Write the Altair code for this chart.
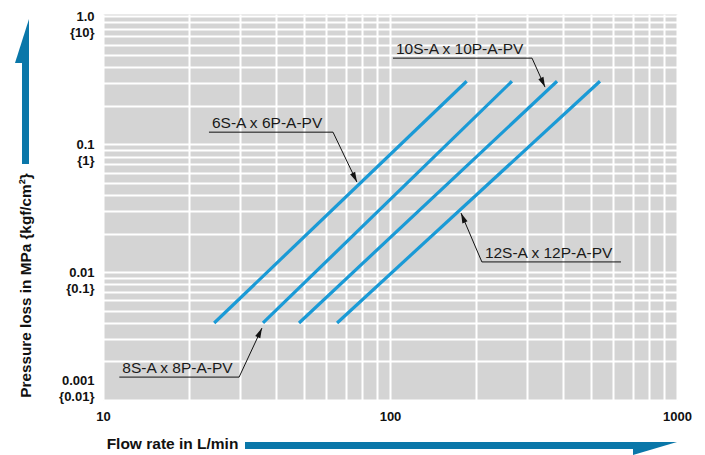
import math
import altair as alt
import pandas as pd

# ---------------- data ----------------
series = ["6S-A x 6P-A-PV", "8S-A x 8P-A-PV", "10S-A x 10P-A-PV", "12S-A x 12P-A-PV"]
flow_start = [24.4, 36.1, 48.2, 65.4]
flow_end = [185.0, 266.0, 382.0, 539.0]
loss_start = [0.004, 0.004, 0.004, 0.004]
loss_end = [0.31, 0.31, 0.31, 0.31]

# annotation callouts (underline ends, underline level, arrow tip) in data units
ann_x0 = [23.4, 11.4, 102.4, 209.0]
ann_x1 = [63.3, 29.8, 312.5, 638.0]
ann_y = [0.124, 0.00151, 0.47, 0.0120]
ann_tip_x = [76.7, 35.8, 346.8, 176.8]
ann_tip_y = [0.0505, 0.00365, 0.279, 0.0289]
ann_attach = ["right", "right", "right", "left"]

x_tick_values = [10, 100, 1000]
x_tick_labels = ["10", "100", "1000"]
y_tick_values = [1.0, 0.1, 0.01, 0.001]
y_tick_mpa = ["1.0", "0.1", "0.01", "0.001"]
y_tick_kgf = ["{10}", "{1}", "{0.1}", "{0.01}"]

# ---------------- layout / style ----------------
W, H = 574, 386
X_DOMAIN = [10, 1000]
Y_DOMAIN = [0.001, 1.04]
LINE_BLUE = "#1a9ad6"
ARROW_BLUE = "#0a77a9"
GRID_BG = "#d4d4d4"
BOLD_FONT = "Liberation Sans Narrow, Arial Narrow, Liberation Sans, sans-serif"
TEXT_FONT = "Liberation Sans, Arial, sans-serif"

x_grid = [float(f"{k}e{e}") for e in (1, 2) for k in range(1, 10)] + [1000.0]
y_grid = [float(f"{k}e{e}") for e in (-3, -2, -1) for k in range(1, 10)] + [1.0]


def px(v):
    lo, hi = math.log10(X_DOMAIN[0]), math.log10(X_DOMAIN[1])
    return W * (math.log10(v) - lo) / (hi - lo)


def py(v):
    lo, hi = math.log10(Y_DOMAIN[0]), math.log10(Y_DOMAIN[1])
    return H * (hi - math.log10(v)) / (hi - lo)


rows = []
for s, fs, fe, ls, le in zip(series, flow_start, flow_end, loss_start, loss_end):
    rows.append({"series": s, "flow": fs, "loss": ls, "o": 0})
    rows.append({"series": s, "flow": fe, "loss": le, "o": 1})
lines_df = pd.DataFrame(rows)

lead_rows, text_rows, head_rows = [], [], []
for s, x0, x1, y, tx, ty, att in zip(series, ann_x0, ann_x1, ann_y, ann_tip_x, ann_tip_y, ann_attach):
    if att == "right":
        pts = [(x0, y), (x1, y), (tx, ty)]
    else:
        pts = [(x1, y), (x0, y), (tx, ty)]
    for i, (a, b) in enumerate(pts):
        lead_rows.append({"name": s, "o": i, "flow": a, "loss": b})
    text_rows.append({"name": s, "flow": x0, "loss": y})
    (ax, ay) = pts[1]
    dx = px(tx) - px(ax)
    dy = py(ty) - py(ay)
    ang = math.degrees(math.atan2(dx, -dy)) % 360
    head_rows.append({"name": s, "flow": tx, "loss": ty, "ang": ang})
lead_df = pd.DataFrame(lead_rows)
text_df = pd.DataFrame(text_rows)
head_df = pd.DataFrame(head_rows)

xscale = alt.Scale(type="log", domain=X_DOMAIN, nice=False)
yscale = alt.Scale(type="log", domain=Y_DOMAIN, nice=False)

x_label_expr = " : ".join(
    f"datum.value == {v} ? '{t}'" for v, t in zip(x_tick_values, x_tick_labels)
) + " : ''"
y_label_expr = " : ".join(
    f"datum.value == {v} ? ['{a}', '{b}']"
    for v, a, b in zip(y_tick_values, y_tick_mpa, y_tick_kgf)
) + " : ''"
lowest = min(y_tick_values)

x_axis = alt.Axis(
    values=x_grid, labelExpr=x_label_expr, grid=True, gridColor="white", gridWidth=2,
    ticks=False, domain=False, labelFont=BOLD_FONT, labelFontWeight="bold",
    labelFontSize=13, labelColor="#111111", labelPadding=10, labelFlush=False,
    labelOverlap=False, title="Flow rate in L/min", titleFont=BOLD_FONT,
    titleFontSize=15.5, titleFontWeight="bold", titleColor="#111111",
    titleX=69, titleY=43, titleAlign="center", titleBaseline="middle", titleAngle=0,
)
y_axis = alt.Axis(
    values=y_grid, labelExpr=y_label_expr, grid=True, gridColor="white", gridWidth=2,
    ticks=False, domain=False, labelFont=BOLD_FONT, labelFontWeight="bold",
    labelFontSize=13, labelColor="#111111", labelPadding=9, labelFlush=False,
    labelOverlap=False, labelLineHeight=16, labelAlign="right",
    labelBaseline="middle",
    labelOffset={"condition": {"test": f"datum.value <= {lowest}", "value": -20}, "value": 0},
    title="Pressure loss in MPa {kgf/cm²}", titleFont=BOLD_FONT, titleFontSize=15.3,
    titleFontWeight="bold", titleColor="#111111",
    titleX=-78, titleY=271, titleAlign="center", titleBaseline="middle", titleAngle=270,
)

curves = alt.Chart(lines_df).mark_line(color=LINE_BLUE, strokeWidth=3.2).encode(
    x=alt.X("flow:Q", scale=xscale, axis=x_axis),
    y=alt.Y("loss:Q", scale=yscale, axis=y_axis),
    detail="series:N",
    order="o:Q",
)

leaders = alt.Chart(lead_df).mark_line(color="#111111", strokeWidth=1).encode(
    x=alt.X("flow:Q", scale=xscale),
    y=alt.Y("loss:Q", scale=yscale),
    detail="name:N",
    order="o:Q",
)

labels = alt.Chart(text_df).mark_text(
    align="left", baseline="alphabetic", dx=3, dy=-4, font=TEXT_FONT,
    fontSize=15.5, color="#1a1a1a",
).encode(
    x=alt.X("flow:Q", scale=xscale),
    y=alt.Y("loss:Q", scale=yscale),
    text="name:N",
)

heads = alt.Chart(head_df).mark_point(
    shape="M0,0L0.28,1L-0.28,1Z", size=400, filled=True, color="#111111",
    opacity=1, strokeWidth=0,
).encode(
    x=alt.X("flow:Q", scale=xscale),
    y=alt.Y("loss:Q", scale=yscale),
    angle=alt.Angle("ang:Q", scale=None),
)

one = alt.Data(values=[{"k": 0}])
y_shaft = alt.Chart(one).mark_rule(color=ARROW_BLUE, strokeWidth=7).encode(
    x=alt.value(-77.5), y=alt.value(49), y2=alt.value(150)
)
y_head = alt.Chart(one).mark_point(
    shape="M0,0L0,-44L-14,0Z", size=4, filled=True, color=ARROW_BLUE, opacity=1, strokeWidth=0
).encode(x=alt.value(-74), y=alt.value(49))
x_shaft = alt.Chart(one).mark_rule(color=ARROW_BLUE, strokeWidth=7).encode(
    x=alt.value(142), x2=alt.value(531), y=alt.value(431.5)
)
x_head = alt.Chart(one).mark_point(
    shape="M0,0L44,0L0,13Z", size=4, filled=True, color=ARROW_BLUE, opacity=1, strokeWidth=0
).encode(x=alt.value(530), y=alt.value(428))

chart = alt.layer(
    curves, leaders, labels, heads, y_shaft, y_head, x_shaft, x_head
).properties(
    width=W, height=H,
    autosize=alt.AutoSizeParams(type="none"),
    padding={"left": 95, "top": 6, "right": 20, "bottom": 55},
).configure_view(fill=GRID_BG, stroke="transparent")

chart.save("out.html", embed_options={"renderer": "svg", "actions": False})
